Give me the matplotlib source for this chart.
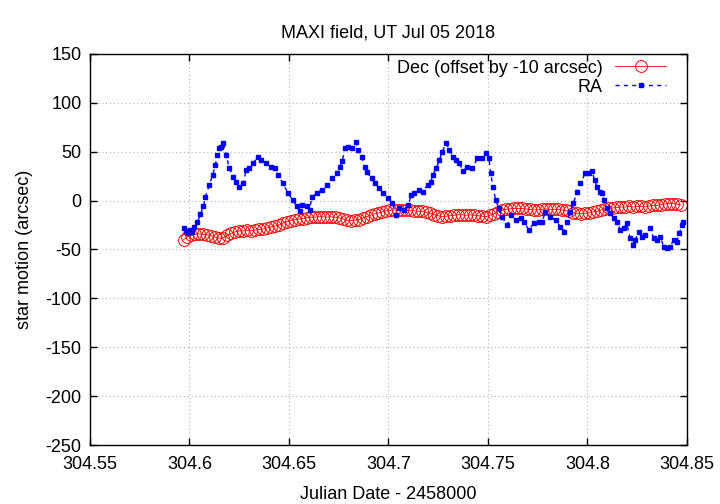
import matplotlib
matplotlib.use("Agg")
import matplotlib.pyplot as plt
from matplotlib.ticker import FuncFormatter
import numpy as np

plt.rcParams['font.family'] = ['Liberation Sans', 'DejaVu Sans']
plt.rcParams['axes.unicode_minus'] = False

# Dec (offset by -10 arcsec), sampled every 0.002 day from 304.597
dec_start = 304.597
dec_step = 0.002
dec = [-40, -37, -35.5, -34.5, -34, -34.5, -35, -36, -37.5, -38.5,
       -38, -35.5, -33.5, -32, -31, -31, -30.5, -31, -30, -29.5,
       -29, -28, -27, -26, -25, -23, -21.5, -20.5, -19.5, -19,
       -18.5, -17.5, -17, -17, -16.5, -16.5, -17, -16.5, -17, -17.5,
       -18.5, -20, -20.5, -20, -19.5, -18, -16.5, -15, -13.5, -12.5,
       -11.5, -10.5, -10, -9.5, -9.5, -10, -10, -10, -10.5, -11,
       -11, -12, -13, -14.5, -15.5, -16.5, -16, -15.5, -15, -14.5,
       -14.5, -15, -14.5, -15, -15.5, -16, -16.5, -15, -13.5, -11.5,
       -10, -9, -8.5, -8, -8, -8, -8.5, -9, -9.5, -9.5,
       -9, -8.5, -9, -9, -9, -9.5, -10, -11, -12.5, -13,
       -13.5, -13, -12.5, -11.5, -11, -9.5, -8.5, -8, -7.5, -7,
       -6.5, -6.5, -6, -6.5, -6, -6, -6.5, -5.5, -5, -5,
       -4, -3.5, -3, -3, -3.5, -4.5]
dec_jd = dec_start + dec_step * np.arange(len(dec))

ra_jd = [304.5974, 304.5985, 304.5995, 304.6005, 304.6015, 304.6025, 304.604, 304.6055,
         304.607, 304.608, 304.610, 304.6116, 304.613, 304.614, 304.615, 304.616,
         304.617, 304.6185, 304.620, 304.622, 304.6235, 304.625, 304.627, 304.6285,
         304.630, 304.632, 304.6344, 304.636, 304.6386, 304.641, 304.6428, 304.6445,
         304.647, 304.6495, 304.652, 304.6539, 304.6555, 304.6564, 304.6589, 304.6605,
         304.6614, 304.664, 304.6664, 304.669, 304.6714, 304.674, 304.6756, 304.6768,
         304.678, 304.6798, 304.6815, 304.6835, 304.6848, 304.6865, 304.688, 304.689,
         304.6915, 304.693, 304.6955, 304.6972, 304.6997, 304.702, 304.7039, 304.7055,
         304.708, 304.710, 304.7114, 304.713, 304.7156, 304.7172, 304.7197, 304.7214,
         304.7222, 304.724, 304.7256, 304.727, 304.729, 304.7306, 304.7323, 304.734,
         304.7356, 304.7376, 304.7397, 304.7422, 304.7447, 304.7472, 304.7492, 304.7505,
         304.7514, 304.7525, 304.7539, 304.7555, 304.757, 304.7597, 304.7614, 304.7639,
         304.7664, 304.768, 304.7706, 304.773, 304.7756, 304.7772, 304.7789, 304.7814,
         304.784, 304.7864, 304.788, 304.7897, 304.7914, 304.793, 304.7947, 304.7964,
         304.799, 304.8006, 304.8023, 304.8036, 304.8048, 304.8065, 304.8073, 304.8082,
         304.8098, 304.8115, 304.8132, 304.8148, 304.8165, 304.8182, 304.8198, 304.8215,
         304.8227, 304.824, 304.8258, 304.8275, 304.829, 304.8317, 304.8333, 304.835,
         304.8367, 304.8383, 304.84, 304.8417, 304.8433, 304.845, 304.8462, 304.8475,
         304.8483]
ra = [-28, -31, -33, -30, -32, -27, -22, -14,
      -6, 4, 16, 26, 36, 47, 53.5, 55,
      58.6, 46.6, 33, 24.5, 19, 14, 17.7, 31,
      33, 38, 45, 41.5, 38, 34.7, 33, 26,
      17.7, 7.5, 0.6, -6, -11, -4.5, -6, -9.6,
      4, 7.5, 11, 16, 22.8, 28, 34.7, 40,
      53.5, 55, 53.5, 59.6, 51.8, 45, 34.7, 29.6,
      22.8, 17.7, 12.6, 7.5, 2.4, -2.8, -15, -8,
      -9.6, -4.5, 5.7, 7.5, 11, 9, 16, 19.3,
      26, 33, 41.5, 50, 58.6, 51.8, 45, 41.5,
      38, 30.3, 34.7, 33, 43.3, 43.3, 48.4, 43.3,
      28, 14.2, 0.6, -8, -16.5, -25, -14.7, -20,
      -18, -21.6, -30, -23.2, -21.6, -21.6, -11.3, -16.5,
      -20, -26.7, -31.8, -21.6, -11.3, -2.8, 9, 17.7,
      28, 28, 30, 21, 14.2, 9, 7.5, 0.6,
      -8, -13, -18, -21.6, -30, -28.4, -23.2, -38.6,
      -45.4, -40.3, -31.8, -37, -35, -28.4, -38.6, -40.3,
      -37, -47, -48.8, -47, -40.3, -42, -33.5, -25,
      -21.6]

fig = plt.figure(figsize=(7.2, 5.04), dpi=100)
ax = fig.add_axes([0.125, 0.117, 0.829, 0.776])

ax.plot(dec_jd, dec, color='red', lw=0.6, marker='o', ms=8.5, mfc='none',
        mec='red', mew=0.7, label='Dec (offset by -10 arcsec)')
ax.plot(ra_jd, ra, color='blue', lw=1.0, ls=(0, (3, 3)), marker='s', ms=3.5,
        mfc='blue', mec='blue', label='RA')

ax.set_xlim(304.55, 304.85)
ax.set_ylim(-250, 150)
ax.set_xticks(np.arange(304.55, 304.851, 0.05))
ax.set_yticks(np.arange(-250, 151, 50))
ax.xaxis.set_major_formatter(FuncFormatter(lambda v, p: '%g' % round(v, 2)))
ax.tick_params(direction='in', top=True, right=True, length=5, width=1,
               labelsize=13, pad=6)
ax.tick_params(axis='x', pad=8)
ax.grid(True, color='#b0b0b0', lw=0.8, ls=(0, (1, 2.5)))
for s in ax.spines.values():
    s.set_linewidth(1.0)

ax.set_title('MAXI field, UT Jul 05 2018', fontsize=13, pad=12)
ax.set_xlabel('Julian Date - 2458000', fontsize=13, labelpad=9)
ax.set_ylabel('star motion (arcsec)', fontsize=13, labelpad=9)

leg = ax.legend(loc='upper right', bbox_to_anchor=(0.965, 0.985),
                markerfirst=False, frameon=False, fontsize=13,
                handlelength=2.8, borderaxespad=0, borderpad=0,
                labelspacing=0.1, handletextpad=0.7)
for col in leg._legend_handle_box.get_children():
    col.align = 'right'

fig.savefig('out.png', dpi=100)
